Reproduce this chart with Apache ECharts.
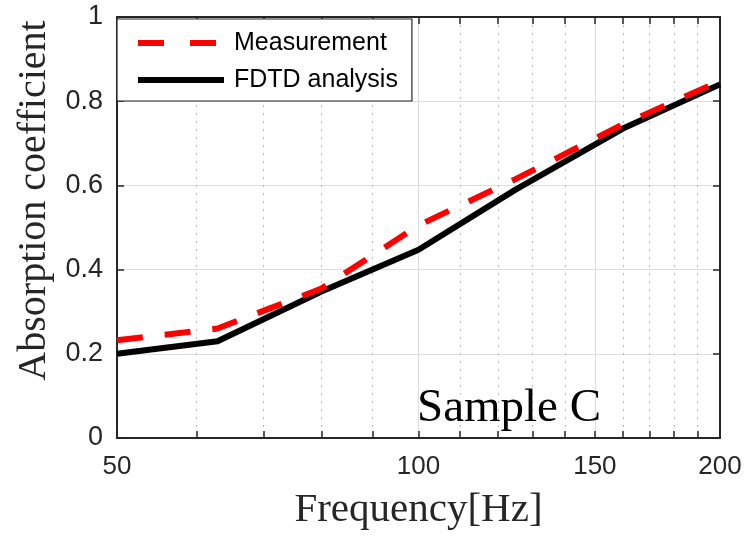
<!DOCTYPE html>
<html>
<head>
<meta charset="utf-8">
<script src="https://cdn.jsdelivr.net/npm/echarts@6/dist/echarts.min.js"></script>
<style>html,body{margin:0;padding:0;background:#fff}#c{width:747px;height:536px}</style>
</head>
<body>
<div id="c"></div>
<script>
const frequencies = [50, 63, 80, 100, 125, 160, 200];
const measurement = [0.232, 0.26, 0.355, 0.505, 0.615, 0.745, 0.848];
const fdtd = [0.2, 0.23, 0.348, 0.447, 0.59, 0.735, 0.84];
const xMajorTicks = [50, 100, 150, 200];
const xMinorTicks = [60, 70, 80, 90, 110, 120, 130, 140, 160, 170, 180, 190];
const xAllTicks = [50, 60, 70, 80, 90, 100, 110, 120, 130, 140, 150, 160, 170, 180, 190, 200];

const axisColor = '#262626';
const chart = echarts.init(document.getElementById('c'), null, {renderer: 'canvas'});

const pairs = (vals) => frequencies.map((f, i) => [f, vals[i]]);

chart.setOption({
  animation: false,
  backgroundColor: '#fff',
  grid: {left: 117, right: 27, top: 17, bottom: 96, containLabel: false},
  xAxis: [
    {
      type: 'log', min: 50, max: 200, position: 'bottom',
      name: 'Frequency[Hz]', nameLocation: 'middle', nameGap: 52,
      nameTextStyle: {fontFamily: 'Liberation Serif', fontSize: 41, color: axisColor},
      axisLine: {show: true, onZero: false, lineStyle: {color: axisColor, width: 2}},
      axisTick: {show: true, inside: true, length: 7, customValues: xMajorTicks, lineStyle: {color: axisColor, width: 1.5}},
      axisLabel: {show: true, customValues: xMajorTicks, margin: 16, color: axisColor, fontSize: 26, fontFamily: 'Liberation Sans', formatter: v => String(Math.round(v))},
      splitLine: {show: true, lineStyle: {color: '#dedede', width: 1.2}},
      minorTick: {show: false}
    },
    {
      type: 'log', min: 50, max: 200, position: 'bottom',
      axisLine: {show: false},
      axisTick: {show: true, inside: true, length: 7, customValues: xMinorTicks, lineStyle: {color: axisColor, width: 1.5}},
      axisLabel: {show: false},
      splitLine: {show: true, lineStyle: {color: '#b8b8b8', width: 1, type: [2, 6]}}
    },
    {
      type: 'log', min: 50, max: 200, position: 'top',
      axisLine: {show: true, onZero: false, lineStyle: {color: axisColor, width: 2}},
      axisTick: {show: true, inside: true, length: 7, customValues: xAllTicks, lineStyle: {color: axisColor, width: 1.5}},
      axisLabel: {show: false},
      splitLine: {show: false}
    }
  ],
  yAxis: [
    {
      type: 'value', min: 0, max: 1, interval: 0.2, position: 'left',
      name: 'Absorption coefficient', nameLocation: 'middle', nameGap: 62,
      nameTextStyle: {fontFamily: 'Liberation Serif', fontSize: 40, color: axisColor, padding: [0, 0, 0, 54]},
      axisLine: {show: true, onZero: false, lineStyle: {color: axisColor, width: 2}},
      axisTick: {show: true, inside: true, length: 7, lineStyle: {color: axisColor, width: 1.5}},
      axisLabel: {show: true, margin: 14, color: axisColor, fontSize: 27, fontFamily: 'Liberation Sans', formatter: v => String(Math.round(v * 10) / 10)},
      splitLine: {show: true, lineStyle: {color: '#dedede', width: 1.2}}
    },
    {
      type: 'value', min: 0, max: 1, interval: 0.2, position: 'right',
      axisLine: {show: true, onZero: false, lineStyle: {color: axisColor, width: 2}},
      axisTick: {show: true, inside: true, length: 7, lineStyle: {color: axisColor, width: 1.5}},
      axisLabel: {show: false},
      splitLine: {show: false}
    }
  ],
  legend: {
    orient: 'vertical', left: 117, top: 19,
    backgroundColor: '#fff', borderColor: axisColor, borderWidth: 1.2, borderRadius: 0,
    padding: [9, 14, 6, 18],
    itemWidth: 86, itemHeight: 14, itemGap: 7,
    textStyle: {fontFamily: 'Liberation Sans', fontSize: 25, color: '#000', lineHeight: 30, padding: [0, 0, 0, 5]},
    data: [
      {name: 'Measurement', itemStyle: {opacity: 0}, lineStyle: {color: '#ff0000', width: 6, type: [26, 26], cap: 'butt'}},
      {name: 'FDTD analysis', itemStyle: {opacity: 0}, lineStyle: {color: '#000000', width: 6, type: 'solid'}}
    ]
  },
  series: [
    {
      name: 'Measurement', type: 'line', xAxisIndex: 0, yAxisIndex: 0,
      data: pairs(measurement), symbol: 'none', showSymbol: false, z: 3,
      lineStyle: {color: '#ff0000', width: 6, type: [26, 22], cap: 'butt'},
      itemStyle: {color: '#ff0000'}
    },
    {
      name: 'FDTD analysis', type: 'line', xAxisIndex: 0, yAxisIndex: 0,
      data: pairs(fdtd), symbol: 'none', showSymbol: false, z: 2,
      lineStyle: {color: '#000000', width: 6, type: 'solid', join: 'round'},
      itemStyle: {color: '#000000'}
    }
  ],
  graphic: [
    {
      type: 'text', x: 417, y: 409, z: 10,
      style: {text: 'Sample C', fill: '#000', font: '47px "Liberation Serif"', align: 'left', verticalAlign: 'middle'}
    }
  ]
});
</script>
</body>
</html>
